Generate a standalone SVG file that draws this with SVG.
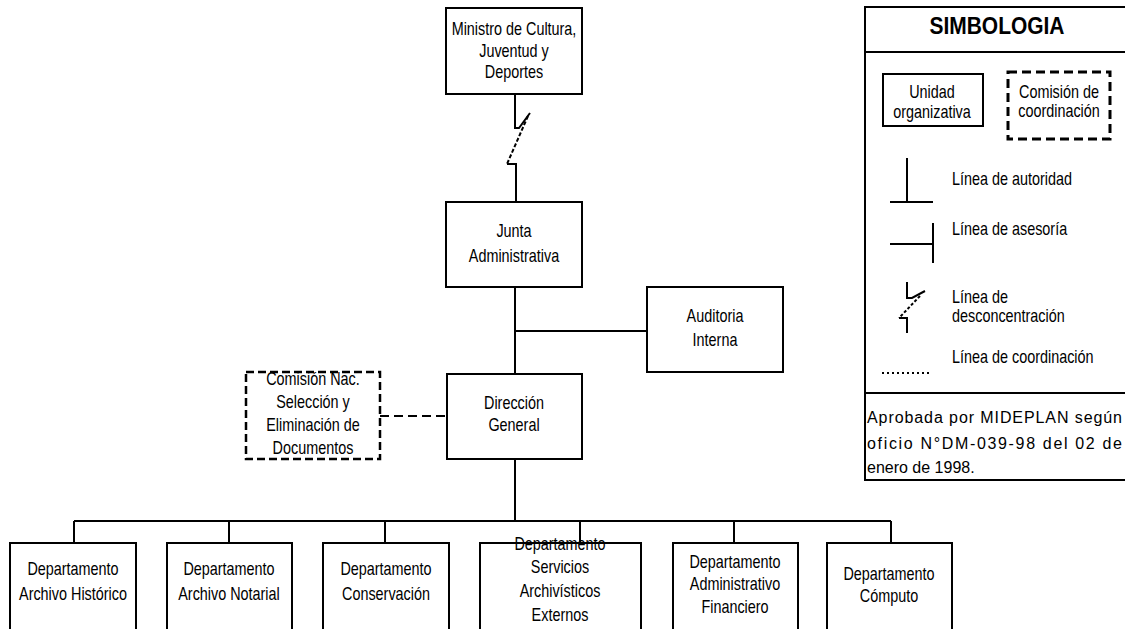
<svg xmlns="http://www.w3.org/2000/svg" width="1125" height="629" viewBox="0 0 1125 629">
<style>
.box{fill:#fff;stroke:#000;stroke-width:2}
.dbox{fill:#fff;stroke:#000;stroke-width:2.5;stroke-dasharray:8 4}
.t{font-family:"Liberation Sans",Arial,sans-serif;font-size:18px;fill:#000;text-anchor:middle}
.tl{font-family:"Liberation Sans",Arial,sans-serif;font-size:18px;fill:#000}
.ln{fill:none;stroke:#000;stroke-width:2}
.foot{font-family:"Liberation Sans",Arial,sans-serif;font-size:16px;fill:#000}
</style>
<rect width="1125" height="629" fill="#fff"/>
<g id="connectors">
<path class="ln" d="M515,94 V128 L519,128 L530,113"/>
<path class="ln" d="M528,116 L507,164" stroke-dasharray="4 2"/>
<path class="ln" d="M507,164 H516 V202"/>
<path class="ln" d="M515,287 V374 M515,331 H647"/>
<path class="ln" d="M380,416 H447" stroke-width="3" stroke-dasharray="9 5"/>
<path class="ln" d="M515,459 V521 M74,521 H891 M74,521 V543 M229,521 V543 M385,521 V543 M580,521 V543 M734,521 V543 M891,521 V543"/>
</g>
<g id="ministro"><rect class="box" x="446" y="8" width="136" height="86"/>
<text class="t" transform="translate(514,35) scale(0.8,1)">Ministro de Cultura,</text><text class="t" transform="translate(514,57) scale(0.8,1)">Juventud y</text><text class="t" transform="translate(514,78) scale(0.8,1)">Deportes</text></g>
<g id="junta"><rect class="box" x="446" y="202" width="136" height="85"/>
<text class="t" transform="translate(514,237) scale(0.8,1)">Junta</text><text class="t" transform="translate(514,262) scale(0.8,1)">Administrativa</text></g>
<g id="auditoria"><rect class="box" x="647" y="287" width="136" height="85"/>
<text class="t" transform="translate(715,322) scale(0.8,1)">Auditoria</text><text class="t" transform="translate(715,346) scale(0.8,1)">Interna</text></g>
<g id="direccion"><rect class="box" x="447" y="374" width="135" height="85"/>
<text class="t" transform="translate(514,409) scale(0.8,1)">Dirección</text><text class="t" transform="translate(514,431) scale(0.8,1)">General</text></g>
<g id="comision"><rect class="dbox" x="246" y="372" width="134" height="87"/>
<text class="t" transform="translate(313,385) scale(0.8,1)">Comisión Nac.</text><text class="t" transform="translate(313,408) scale(0.8,1)">Selección y</text><text class="t" transform="translate(313,431) scale(0.8,1)">Eliminación de</text><text class="t" transform="translate(313,454) scale(0.8,1)">Documentos</text></g>
<g id="dep1"><rect class="box" x="10" y="543" width="126" height="100"/>
<text class="t" transform="translate(73,575) scale(0.8,1)">Departamento</text><text class="t" transform="translate(73,600) scale(0.8,1)">Archivo Histórico</text></g>
<g id="dep2"><rect class="box" x="167" y="543" width="125" height="100"/>
<text class="t" transform="translate(229,575) scale(0.8,1)">Departamento</text><text class="t" transform="translate(229,600) scale(0.8,1)">Archivo Notarial</text></g>
<g id="dep3"><rect class="box" x="323" y="543" width="126" height="100"/>
<text class="t" transform="translate(386,575) scale(0.8,1)">Departamento</text><text class="t" transform="translate(386,600) scale(0.8,1)">Conservación</text></g>
<g id="dep4"><rect class="box" x="480" y="543" width="161" height="100"/>
<text class="t" transform="translate(560,550) scale(0.8,1)">Departamento</text><text class="t" transform="translate(560,573) scale(0.8,1)">Servicios</text><text class="t" transform="translate(560,597) scale(0.8,1)">Archivísticos</text><text class="t" transform="translate(560,621) scale(0.8,1)">Externos</text></g>
<g id="dep5"><rect class="box" x="673" y="543" width="125" height="100"/>
<text class="t" transform="translate(735,568) scale(0.8,1)">Departamento</text><text class="t" transform="translate(735,590) scale(0.8,1)">Administrativo</text><text class="t" transform="translate(735,613) scale(0.8,1)">Financiero</text></g>
<g id="dep6"><rect class="box" x="827" y="543" width="125" height="100"/>
<text class="t" transform="translate(889,580) scale(0.8,1)">Departamento</text><text class="t" transform="translate(889,602) scale(0.8,1)">Cómputo</text></g>
<g id="simbologia">
<rect class="box" x="865" y="7" width="270" height="473"/>
<path class="ln" d="M865,52 H1130 M865,393 H1130"/>
<text x="997" y="34" font-family="Liberation Sans,Arial,sans-serif" font-weight="bold" font-size="23" text-anchor="middle" textLength="135" lengthAdjust="spacingAndGlyphs">SIMBOLOGIA</text>
<rect class="box" x="883" y="74" width="100" height="52"/>
<text class="t" transform="translate(932,98) scale(0.8,1)">Unidad</text><text class="t" transform="translate(932,118) scale(0.8,1)">organizativa</text>
<rect x="1008" y="72" width="102" height="67" fill="#fff" stroke="#000" stroke-width="3" stroke-dasharray="9 5"/>
<text class="t" transform="translate(1059,98) scale(0.8,1)">Comisión de</text><text class="t" transform="translate(1059,117) scale(0.8,1)">coordinación</text>
<path class="ln" d="M907,158 V202 M890,202 H933"/>
<text class="tl" transform="translate(952,185) scale(0.8,1)">Línea de autoridad</text>
<path class="ln" d="M933,223 V263 M890,244 H933"/>
<text class="tl" transform="translate(952,235) scale(0.8,1)">Línea de asesoría</text>
<path class="ln" d="M907,282 V298 H912 L925,291"/>
<path class="ln" d="M920,296 L899,318" stroke-dasharray="3 2"/>
<path class="ln" d="M899,318 H907 V333"/>
<text class="tl" transform="translate(952,303) scale(0.8,1)">Línea de</text><text class="tl" transform="translate(952,322) scale(0.8,1)">desconcentración</text>
<path class="ln" d="M882,373 H931" stroke-dasharray="2 3"/>
<text class="tl" transform="translate(952,363) scale(0.8,1)">Línea de coordinación</text>
<text class="foot" x="867" y="423" textLength="255" lengthAdjust="spacing">Aprobada por MIDEPLAN según</text>
<text class="foot" x="867" y="449" textLength="255" lengthAdjust="spacing">oficio N°DM-039-98 del 02 de</text>
<text class="foot" x="867" y="473">enero de 1998.</text>
</g>
</svg>
